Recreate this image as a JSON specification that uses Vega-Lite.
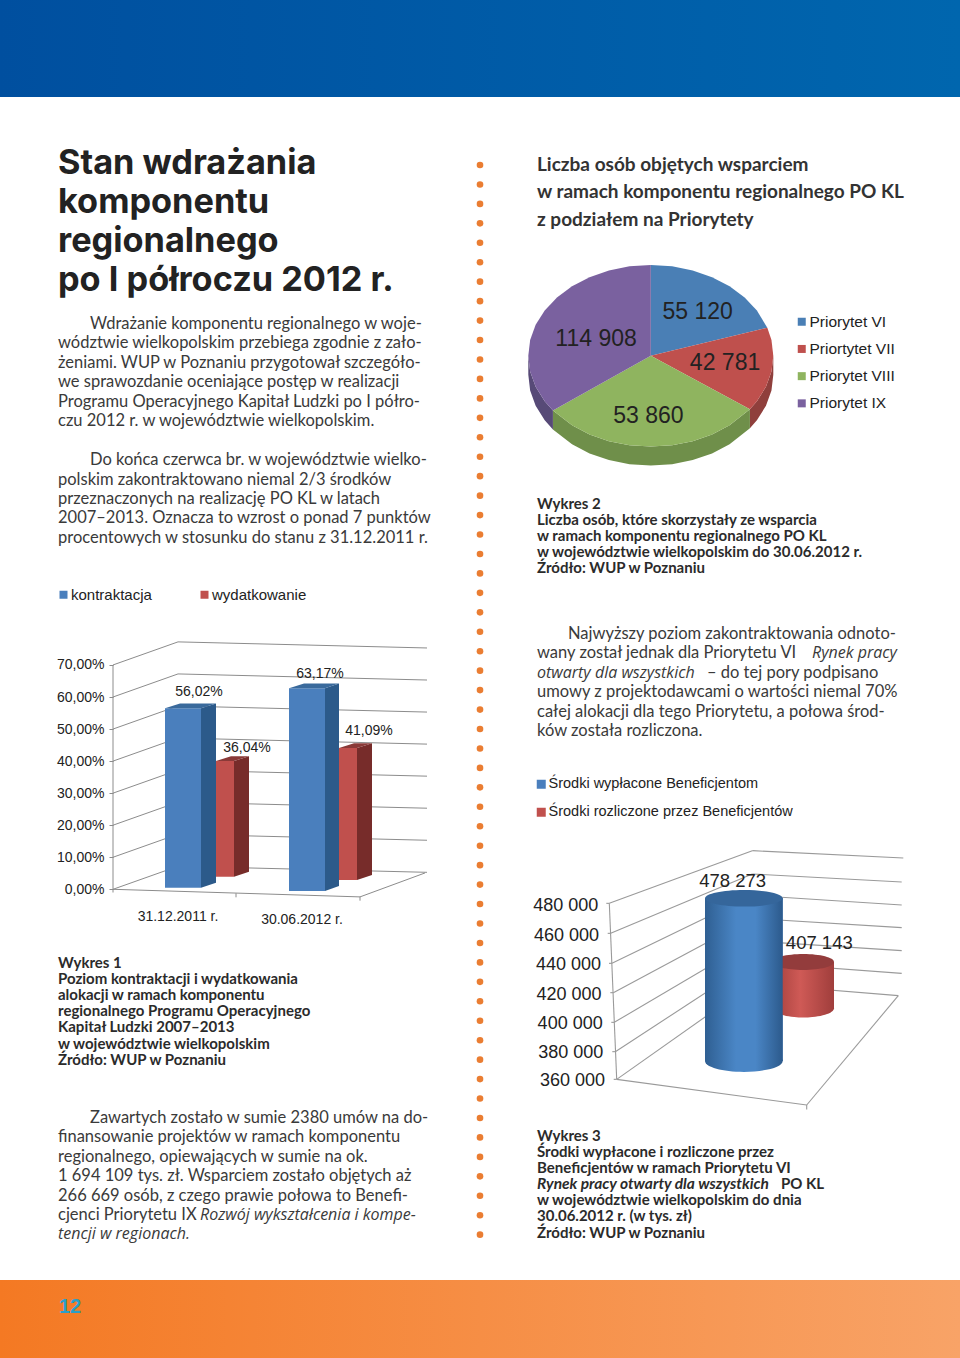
{"$schema":"https://vega.github.io/schema/vega-lite/v6.json","padding":0,"background":"#ffffff","config":{"view":{"stroke":null},"axis":{"labelFont":"Liberation Sans"},"legend":{"labelFont":"Liberation Sans"}},"spacing":0,"vconcat":[
{"width":960,"height":97,"data":{"values":[{"band":"top"}]},"mark":{"type":"rect","fill":{"x1":0,"y1":0,"x2":1,"y2":0,"gradient":"linear","stops":[{"offset":0,"color":"#004f9f"},{"offset":1,"color":"#0066ae"}]}},"encoding":{}},
{"spacing":0,"hconcat":[
{"spacing":0,"bounds":"flush","vconcat":[
{"width":470,"height":203,"data":{"values":[{"line":1,"indent":0,"text":"Stan wdrażania"},{"line":2,"indent":0,"text":"komponentu"},{"line":3,"indent":0,"text":"regionalnego"},{"line":4,"indent":0,"text":"po I półroczu 2012 r."}]},"mark":{"type":"text","align":"left","baseline":"middle","font":"Inter","fontWeight":"bold","fontSize":34.3,"color":"#222222"},"encoding":{"x":{"field":"indent","type":"quantitative","scale":{"domain":[-58,412]},"axis":null},"y":{"field":"line","type":"quantitative","scale":{"domain":[-0.718,4.487],"reverse":true},"axis":null},"text":{"field":"text"}}},
{"width":470,"height":260,"data":{"values":[{"line":1,"indent":32,"text":"Wdrażanie komponentu regionalnego w woje-"},{"line":2,"indent":0,"text":"wództwie wielkopolskim przebiega zgodnie z zało-"},{"line":3,"indent":0,"text":"żeniami. WUP w Poznaniu przygotował szczegóło-"},{"line":4,"indent":0,"text":"we sprawozdanie oceniające postęp w realizacji"},{"line":5,"indent":0,"text":"Programu Operacyjnego Kapitał Ludzki po I półro-"},{"line":6,"indent":0,"text":"czu 2012 r. w województwie wielkopolskim."},{"line":8,"indent":32,"text":"Do końca czerwca br. w województwie wielko-"},{"line":9,"indent":0,"text":"polskim zakontraktowano niemal 2/3 środków"},{"line":10,"indent":0,"text":"przeznaczonych na realizację PO KL w latach"},{"line":11,"indent":0,"text":"2007–2013. Oznacza to wzrost o ponad 7 punktów"},{"line":12,"indent":0,"text":"procentowych w stosunku do stanu z 31.12.2011 r."}]},"mark":{"type":"text","align":"left","baseline":"middle","font":"Lato","fontSize":16.5,"color":"#3a3a3a"},"encoding":{"x":{"field":"indent","type":"quantitative","scale":{"domain":[-58,412]},"axis":null},"y":{"field":"line","type":"quantitative","scale":{"domain":[-0.234,13.134],"reverse":true},"axis":null},"text":{"field":"text"}}},
{"width":470,"height":380,"encoding":{"x":{"field":"x0","type":"quantitative","scale":{"domain":[-113,357]},"axis":null},"y":{"field":"y0","type":"quantitative","scale":{"domain":[-15.82,102.75]},"axis":{"title":null,"values":[0,10,20,30,40,50,60,70],"domain":false,"grid":false,"tickSize":4,"tickColor":"#8c8c8c","labelFontSize":14,"labelColor":"#222222","offset":-113,"labelPadding":5,"labelExpr":"replace(format(datum.value,'.2f'),'.',',')+'%'"}}},"layer":[
{"data":{"values":[{"x0":0,"y0":0,"x1":65,"y1":7.2},{"x0":0,"y0":10,"x1":65,"y1":17.2},{"x0":0,"y0":20,"x1":65,"y1":27.2},{"x0":0,"y0":30,"x1":65,"y1":37.2},{"x0":0,"y0":40,"x1":65,"y1":47.2},{"x0":0,"y0":50,"x1":65,"y1":57.2},{"x0":0,"y0":60,"x1":65,"y1":67.2},{"x0":0,"y0":70,"x1":65,"y1":77.2},{"x0":65,"y0":7.2,"x1":314,"y1":5.3},{"x0":65,"y0":17.2,"x1":314,"y1":15.3},{"x0":65,"y0":27.2,"x1":314,"y1":25.3},{"x0":65,"y0":37.2,"x1":314,"y1":35.3},{"x0":65,"y0":47.2,"x1":314,"y1":45.3},{"x0":65,"y0":57.2,"x1":314,"y1":55.3},{"x0":65,"y0":67.2,"x1":314,"y1":65.3},{"x0":65,"y0":77.2,"x1":314,"y1":75.3},{"x0":0,"y0":0,"x1":0,"y1":70},{"x0":0,"y0":0,"x1":247,"y1":-2.37},{"x0":247,"y0":-2.37,"x1":312,"y1":5.1},{"x0":0,"y0":0,"x1":0,"y1":-1},{"x0":123,"y0":-1.25,"x1":123,"y1":-2.5},{"x0":247,"y0":-2.3,"x1":247,"y1":-3.55}]},"mark":{"type":"rule","color":"#8c8c8c","strokeWidth":1},"encoding":{"x2":{"field":"x1"},"y2":{"field":"y1"}}},
{"data":{"values":[{"series":"wydatkowanie","period":"31.12.2011 r.","value":36.04,"x0":103,"x1":121,"y0":3.93,"y1":40},{"series":"kontraktacja","period":"31.12.2011 r.","value":56.02,"x0":52,"x1":88,"y0":0.5,"y1":56.5},{"series":"wydatkowanie","period":"30.06.2012 r.","value":41.09,"x0":226,"x1":244,"y0":2.93,"y1":44.1},{"series":"kontraktacja","period":"30.06.2012 r.","value":63.17,"x0":176,"x1":212,"y0":-0.53,"y1":62.7}]},"mark":{"type":"rect"},"encoding":{"x2":{"field":"x1"},"y2":{"field":"y1"},"fill":{"field":"series","type":"nominal","scale":{"domain":["kontraktacja","wydatkowanie"],"range":["#4a7fbd","#c0504d"]},"legend":{"title":null,"orient":"none","legendX":56,"legendY":27,"direction":"horizontal","symbolType":"square","symbolSize":64,"symbolStrokeWidth":0,"labelFontSize":15,"labelColor":"#222222","columnPadding":45,"labelOffset":0}}}},
{"data":{"values":[{"face":"side blue","bar":"a","x0":88,"y0":0.5},{"face":"side blue","bar":"a","x0":103,"y0":2.06},{"face":"side blue","bar":"a","x0":103,"y0":58},{"face":"side blue","bar":"a","x0":88,"y0":56.5},{"face":"top blue","bar":"b","x0":52,"y0":56.5},{"face":"top blue","bar":"b","x0":67,"y0":58},{"face":"top blue","bar":"b","x0":103,"y0":58},{"face":"top blue","bar":"b","x0":88,"y0":56.5},{"face":"side red","bar":"c","x0":121,"y0":3.93},{"face":"side red","bar":"c","x0":136,"y0":5.5},{"face":"side red","bar":"c","x0":136,"y0":41.5},{"face":"side red","bar":"c","x0":121,"y0":40},{"face":"top red","bar":"d","x0":103,"y0":40},{"face":"top red","bar":"d","x0":118,"y0":41.5},{"face":"top red","bar":"d","x0":136,"y0":41.5},{"face":"top red","bar":"d","x0":121,"y0":40},{"face":"side blue","bar":"e","x0":212,"y0":-0.53},{"face":"side blue","bar":"e","x0":226,"y0":1},{"face":"side blue","bar":"e","x0":226,"y0":64.2},{"face":"side blue","bar":"e","x0":212,"y0":62.7},{"face":"top blue","bar":"f","x0":176,"y0":62.7},{"face":"top blue","bar":"f","x0":191,"y0":64.2},{"face":"top blue","bar":"f","x0":226,"y0":64.2},{"face":"top blue","bar":"f","x0":212,"y0":62.7},{"face":"side red","bar":"g","x0":244,"y0":2.93},{"face":"side red","bar":"g","x0":259,"y0":4.5},{"face":"side red","bar":"g","x0":259,"y0":45.6},{"face":"side red","bar":"g","x0":244,"y0":44.1},{"face":"top red","bar":"h","x0":226,"y0":44.1},{"face":"top red","bar":"h","x0":241,"y0":45.6},{"face":"top red","bar":"h","x0":259,"y0":45.6},{"face":"top red","bar":"h","x0":244,"y0":44.1}]},"mark":{"type":"line","strokeWidth":0},"encoding":{"order":{"value":null},"detail":{"field":"bar"},"fill":{"field":"face","type":"nominal","scale":{"domain":["side blue","top blue","side red","top red"],"range":["#2c5a8a","#3a6a9c","#772c2a","#8a3a38"]},"legend":null}}},
{"data":{"values":[{"x0":86,"y0":61.65,"label":"56,02%"},{"x0":134,"y0":44,"label":"36,04%"},{"x0":207,"y0":67.1,"label":"63,17%"},{"x0":256,"y0":49.5,"label":"41,09%"},{"x0":65,"y0":-8.6,"label":"31.12.2011 r."},{"x0":189,"y0":-9.55,"label":"30.06.2012 r."}]},"mark":{"type":"text","font":"Liberation Sans","fontSize":14,"color":"#222222"},"encoding":{"text":{"field":"label"}}}
],"resolve":{"scale":{"fill":"independent"}}},
{"width":470,"height":140,"data":{"values":[{"line":1,"indent":0,"text":"Wykres 1"},{"line":2,"indent":0,"text":"Poziom kontraktacji i wydatkowania"},{"line":3,"indent":0,"text":"alokacji w ramach komponentu"},{"line":4,"indent":0,"text":"regionalnego Programu Operacyjnego"},{"line":5,"indent":0,"text":"Kapitał Ludzki 2007–2013"},{"line":6,"indent":0,"text":"w województwie wielkopolskim"},{"line":7,"indent":0,"text":"Źródło: WUP w Poznaniu"}]},"mark":{"type":"text","align":"left","baseline":"middle","font":"Lato","fontWeight":"bold","fontSize":15,"color":"#2b2b2b"},"encoding":{"x":{"field":"indent","type":"quantitative","scale":{"domain":[-58,412]},"axis":null},"y":{"field":"line","type":"quantitative","scale":{"domain":[-0.4286,8.267],"reverse":true},"axis":null},"text":{"field":"text"}}},
{"width":470,"height":200,"encoding":{"x":{"field":"indent","type":"quantitative","scale":{"domain":[-58,412]},"axis":null},"y":{"field":"line","type":"quantitative","scale":{"domain":[-0.959,9.35],"reverse":true},"axis":null},"text":{"field":"text"}},"layer":[
{"data":{"values":[{"line":1,"indent":32,"text":"Zawartych zostało w sumie 2380 umów na do-"},{"line":2,"indent":0,"text":"finansowanie projektów w ramach komponentu"},{"line":3,"indent":0,"text":"regionalnego, opiewających w sumie na ok."},{"line":4,"indent":0,"text":"1 694 109 tys. zł. Wsparciem zostało objętych aż"},{"line":5,"indent":0,"text":"266 669 osób, z czego prawie połowa to Benefi-"},{"line":6,"indent":0,"text":"cjenci Priorytetu IX"}]},"mark":{"type":"text","align":"left","baseline":"middle","font":"Lato","fontSize":16.5,"color":"#3a3a3a"}},
{"data":{"values":[{"line":6,"indent":142,"text":"Rozwój wykształcenia i kompe-"},{"line":7,"indent":0,"text":"tencji w regionach."}]},"mark":{"type":"text","align":"left","baseline":"middle","font":"Open Sans","fontStyle":"italic","fontSize":16,"color":"#3a3a3a"}}
]}
]},
{"width":20,"height":1183,"data":{"values":[{"dot":1},{"dot":2},{"dot":3},{"dot":4},{"dot":5},{"dot":6},{"dot":7},{"dot":8},{"dot":9},{"dot":10},{"dot":11},{"dot":12},{"dot":13},{"dot":14},{"dot":15},{"dot":16},{"dot":17},{"dot":18},{"dot":19},{"dot":20},{"dot":21},{"dot":22},{"dot":23},{"dot":24},{"dot":25},{"dot":26},{"dot":27},{"dot":28},{"dot":29},{"dot":30},{"dot":31},{"dot":32},{"dot":33},{"dot":34},{"dot":35},{"dot":36},{"dot":37},{"dot":38},{"dot":39},{"dot":40},{"dot":41},{"dot":42},{"dot":43},{"dot":44},{"dot":45},{"dot":46},{"dot":47},{"dot":48},{"dot":49},{"dot":50},{"dot":51},{"dot":52},{"dot":53},{"dot":54},{"dot":55},{"dot":56}]},"mark":{"type":"point","filled":true,"opacity":1,"size":44,"color":"#ea7d32"},"encoding":{"y":{"field":"dot","type":"quantitative","scale":{"domain":[-2.496,58.33],"reverse":true},"axis":null}}},
{"spacing":0,"bounds":"flush","vconcat":[
{"width":470,"height":148,"data":{"values":[{"line":1,"indent":0,"text":"Liczba osób objętych wsparciem"},{"line":2,"indent":0,"text":"w ramach komponentu regionalnego PO KL"},{"line":3,"indent":0,"text":"z podziałem na Priorytety"}]},"mark":{"type":"text","align":"left","baseline":"middle","font":"Lato","fontWeight":"bold","fontSize":19,"color":"#333333"},"encoding":{"x":{"field":"indent","type":"quantitative","scale":{"domain":[-47,423]},"axis":null},"y":{"field":"line","type":"quantitative","scale":{"domain":[-1.472,3.909],"reverse":true},"axis":null},"text":{"field":"text"}}},
{"width":470,"height":235,"encoding":{"x":{"field":"ux","type":"quantitative","scale":{"domain":[-1.3127,2.524]},"axis":null},"y":{"field":"uy","type":"quantitative","scale":{"domain":[-1.368,1.22]},"axis":null}},"layer":[
{"data":{"values":[{"slice":"Priortytet VII","ux":1,"uy":0},{"slice":"Priortytet VII","ux":0.985,"uy":-0.174},{"slice":"Priortytet VII","ux":0.94,"uy":-0.342},{"slice":"Priortytet VII","ux":0.866,"uy":-0.5},{"slice":"Priortytet VII","ux":0.809,"uy":-0.588},{"slice":"Priortytet VII","ux":0.809,"uy":-0.797},{"slice":"Priortytet VII","ux":0.866,"uy":-0.709},{"slice":"Priortytet VII","ux":0.94,"uy":-0.551},{"slice":"Priortytet VII","ux":0.985,"uy":-0.383},{"slice":"Priortytet VII","ux":1,"uy":-0.209},{"slice":"Priorytet VIII","ux":0.809,"uy":-0.588},{"slice":"Priorytet VIII","ux":0.643,"uy":-0.766},{"slice":"Priorytet VIII","ux":0.5,"uy":-0.866},{"slice":"Priorytet VIII","ux":0.342,"uy":-0.94},{"slice":"Priorytet VIII","ux":0.174,"uy":-0.985},{"slice":"Priorytet VIII","ux":0,"uy":-1},{"slice":"Priorytet VIII","ux":-0.174,"uy":-0.985},{"slice":"Priorytet VIII","ux":-0.342,"uy":-0.94},{"slice":"Priorytet VIII","ux":-0.5,"uy":-0.866},{"slice":"Priorytet VIII","ux":-0.643,"uy":-0.766},{"slice":"Priorytet VIII","ux":-0.799,"uy":-0.602},{"slice":"Priorytet VIII","ux":-0.799,"uy":-0.811},{"slice":"Priorytet VIII","ux":-0.643,"uy":-0.975},{"slice":"Priorytet VIII","ux":-0.5,"uy":-1.075},{"slice":"Priorytet VIII","ux":-0.342,"uy":-1.149},{"slice":"Priorytet VIII","ux":-0.174,"uy":-1.194},{"slice":"Priorytet VIII","ux":0,"uy":-1.209},{"slice":"Priorytet VIII","ux":0.174,"uy":-1.194},{"slice":"Priorytet VIII","ux":0.342,"uy":-1.149},{"slice":"Priorytet VIII","ux":0.5,"uy":-1.075},{"slice":"Priorytet VIII","ux":0.643,"uy":-0.975},{"slice":"Priorytet VIII","ux":0.809,"uy":-0.797},{"slice":"Priorytet IX","ux":-0.799,"uy":-0.602},{"slice":"Priorytet IX","ux":-0.866,"uy":-0.5},{"slice":"Priorytet IX","ux":-0.94,"uy":-0.342},{"slice":"Priorytet IX","ux":-0.985,"uy":-0.174},{"slice":"Priorytet IX","ux":-1,"uy":0},{"slice":"Priorytet IX","ux":-1,"uy":-0.209},{"slice":"Priorytet IX","ux":-0.985,"uy":-0.383},{"slice":"Priorytet IX","ux":-0.94,"uy":-0.551},{"slice":"Priorytet IX","ux":-0.866,"uy":-0.709},{"slice":"Priorytet IX","ux":-0.799,"uy":-0.811}]},"mark":{"type":"line","strokeWidth":0},"encoding":{"order":{"value":null},"fill":{"field":"slice","type":"nominal","scale":{"domain":["Priortytet VII","Priorytet VIII","Priorytet IX"],"range":["#8f3f3c","#6f8f4a","#574a77"]},"legend":null}}},
{"data":{"values":[{"slice":"Priorytet VI","ux":0,"uy":0},{"slice":"Priorytet VI","ux":0,"uy":1},{"slice":"Priorytet VI","ux":0.174,"uy":0.985},{"slice":"Priorytet VI","ux":0.342,"uy":0.94},{"slice":"Priorytet VI","ux":0.5,"uy":0.866},{"slice":"Priorytet VI","ux":0.643,"uy":0.766},{"slice":"Priorytet VI","ux":0.766,"uy":0.643},{"slice":"Priorytet VI","ux":0.866,"uy":0.5},{"slice":"Priorytet VI","ux":0.951,"uy":0.309},{"slice":"Priortytet VII","ux":0,"uy":0},{"slice":"Priortytet VII","ux":0.951,"uy":0.309},{"slice":"Priortytet VII","ux":0.985,"uy":0.174},{"slice":"Priortytet VII","ux":1,"uy":0},{"slice":"Priortytet VII","ux":0.985,"uy":-0.174},{"slice":"Priortytet VII","ux":0.94,"uy":-0.342},{"slice":"Priortytet VII","ux":0.866,"uy":-0.5},{"slice":"Priortytet VII","ux":0.809,"uy":-0.588},{"slice":"Priorytet VIII","ux":0,"uy":0},{"slice":"Priorytet VIII","ux":0.809,"uy":-0.588},{"slice":"Priorytet VIII","ux":0.643,"uy":-0.766},{"slice":"Priorytet VIII","ux":0.5,"uy":-0.866},{"slice":"Priorytet VIII","ux":0.342,"uy":-0.94},{"slice":"Priorytet VIII","ux":0.174,"uy":-0.985},{"slice":"Priorytet VIII","ux":0,"uy":-1},{"slice":"Priorytet VIII","ux":-0.174,"uy":-0.985},{"slice":"Priorytet VIII","ux":-0.342,"uy":-0.94},{"slice":"Priorytet VIII","ux":-0.5,"uy":-0.866},{"slice":"Priorytet VIII","ux":-0.643,"uy":-0.766},{"slice":"Priorytet VIII","ux":-0.799,"uy":-0.602},{"slice":"Priorytet IX","ux":0,"uy":0},{"slice":"Priorytet IX","ux":-0.799,"uy":-0.602},{"slice":"Priorytet IX","ux":-0.866,"uy":-0.5},{"slice":"Priorytet IX","ux":-0.94,"uy":-0.342},{"slice":"Priorytet IX","ux":-0.985,"uy":-0.174},{"slice":"Priorytet IX","ux":-1,"uy":0},{"slice":"Priorytet IX","ux":-0.985,"uy":0.174},{"slice":"Priorytet IX","ux":-0.94,"uy":0.342},{"slice":"Priorytet IX","ux":-0.866,"uy":0.5},{"slice":"Priorytet IX","ux":-0.766,"uy":0.643},{"slice":"Priorytet IX","ux":-0.643,"uy":0.766},{"slice":"Priorytet IX","ux":-0.5,"uy":0.866},{"slice":"Priorytet IX","ux":-0.342,"uy":0.94},{"slice":"Priorytet IX","ux":-0.174,"uy":0.985},{"slice":"Priorytet IX","ux":0,"uy":1}]},"mark":{"type":"line","strokeWidth":0},"encoding":{"order":{"value":null},"fill":{"field":"slice","type":"nominal","scale":{"domain":["Priorytet VI","Priortytet VII","Priorytet VIII","Priorytet IX"],"range":["#4a7fb5","#bf504d","#8fb45f","#7a619f"]},"legend":{"title":null,"orient":"none","legendX":304,"legendY":69,"symbolType":"square","symbolSize":64,"symbolStrokeWidth":0,"labelFontSize":15.5,"labelColor":"#222222","rowPadding":10.2,"labelOffset":0}}}},
{"data":{"values":[{"ux":0.383,"uy":0.483,"label":"55 120"},{"ux":0.606,"uy":-0.075,"label":"42 781"},{"ux":-0.02,"uy":-0.662,"label":"53 860"},{"ux":-0.447,"uy":0.19,"label":"114 908"}]},"mark":{"type":"text","font":"Liberation Sans","fontSize":23,"color":"#222222"},"encoding":{"text":{"field":"label"}}}
],"resolve":{"scale":{"fill":"independent"}}},
{"width":470,"height":140,"data":{"values":[{"line":1,"indent":0,"text":"Wykres 2"},{"line":2,"indent":0,"text":"Liczba osób, które skorzystały ze wsparcia"},{"line":3,"indent":0,"text":"w ramach komponentu regionalnego PO KL"},{"line":4,"indent":0,"text":"w województwie wielkopolskim do 30.06.2012 r."},{"line":5,"indent":0,"text":"Źródło: WUP w Poznaniu"}]},"mark":{"type":"text","align":"left","baseline":"middle","font":"Lato","fontWeight":"bold","fontSize":15,"color":"#2b2b2b"},"encoding":{"x":{"field":"indent","type":"quantitative","scale":{"domain":[-47,423]},"axis":null},"y":{"field":"line","type":"quantitative","scale":{"domain":[-0.491,8.205],"reverse":true},"axis":null},"text":{"field":"text"}}},
{"width":470,"height":140,"encoding":{"x":{"field":"indent","type":"quantitative","scale":{"domain":[-47,423]},"axis":null},"y":{"field":"line","type":"quantitative","scale":{"domain":[0.279,7.495],"reverse":true},"axis":null},"text":{"field":"text"}},"layer":[
{"data":{"values":[{"line":1,"indent":31,"text":"Najwyższy poziom zakontraktowania odnoto-"},{"line":2,"indent":0,"text":"wany został jednak dla Priorytetu VI"},{"line":3,"indent":170,"text":"– do tej pory podpisano"},{"line":4,"indent":0,"text":"umowy z projektodawcami o wartości niemal 70%"},{"line":5,"indent":0,"text":"całej alokacji dla tego Priorytetu, a połowa środ-"},{"line":6,"indent":0,"text":"ków została rozliczona."}]},"mark":{"type":"text","align":"left","baseline":"middle","font":"Lato","fontSize":16.5,"color":"#3a3a3a"}},
{"data":{"values":[{"line":2,"indent":275,"text":"Rynek pracy"},{"line":3,"indent":0,"text":"otwarty dla wszystkich"}]},"mark":{"type":"text","align":"left","baseline":"middle","font":"Open Sans","fontStyle":"italic","fontSize":16,"color":"#3a3a3a"}}
]},
{"width":470,"height":355,"encoding":{"x":{"field":"x0","type":"quantitative","scale":{"domain":[-47,423]},"axis":null},"y":{"field":"y0","type":"quantitative","scale":{"domain":[336042,579040]},"axis":null}},"layer":[
{"data":{"values":[{"x0":72.3,"y0":480927,"x1":215.3,"y1":516978},{"x0":73.7,"y0":460392,"x1":215.3,"y1":501006},{"x0":75,"y0":439856,"x1":215.3,"y1":486403},{"x0":76.3,"y0":419777,"x1":215.3,"y1":470659},{"x0":77.3,"y0":399470,"x1":215.3,"y1":455144},{"x0":78.3,"y0":379391,"x1":215.3,"y1":440541},{"x0":79.7,"y0":360453,"x1":215.3,"y1":425940},{"x0":215.3,"y0":516978,"x1":366.3,"y1":511958},{"x0":215.3,"y0":501006,"x1":364.7,"y1":495530},{"x0":215.3,"y0":486403,"x1":364.7,"y1":479786},{"x0":215.3,"y0":470659,"x1":364.7,"y1":464270},{"x0":215.3,"y0":455144,"x1":364.7,"y1":448527},{"x0":215.3,"y0":440541,"x1":364.7,"y1":433011},{"x0":215.3,"y0":425940,"x1":361.3,"y1":417726},{"x0":72.3,"y0":480927,"x1":79.7,"y1":360453},{"x0":79.7,"y0":360453,"x1":269.7,"y1":342888},{"x0":269.7,"y0":342888,"x1":361.3,"y1":417726},{"x0":269.7,"y0":342888,"x1":269.7,"y1":339800},{"x0":69.3,"y0":480927,"x1":72.3,"y1":480927},{"x0":70.7,"y0":460392,"x1":73.7,"y1":460392},{"x0":72,"y0":439856,"x1":75,"y1":439856},{"x0":73.3,"y0":419777,"x1":76.3,"y1":419777},{"x0":74.3,"y0":399470,"x1":77.3,"y1":399470},{"x0":75.3,"y0":379391,"x1":78.3,"y1":379391},{"x0":76.7,"y0":360453,"x1":79.7,"y1":360453}]},"mark":{"type":"rule","color":"#9a9a9a","strokeWidth":1.1},"encoding":{"x2":{"field":"x1"},"y2":{"field":"y1"}}},
{"data":{"values":[{"series":"Środki rozliczone przez Beneficjentów","value":407143,"x0":235.6,"x1":297,"y0":409079,"y1":440771},{"series":"Środki wypłacone Beneficjentom","value":478273,"x0":168,"x1":245.7,"y0":373006,"y1":484374}]},"mark":{"type":"rect"},"encoding":{"x2":{"field":"x1"},"y2":{"field":"y1"},"fill":{"field":"series","type":"nominal","scale":{"domain":["Środki wypłacone Beneficjentom","Środki rozliczone przez Beneficjentów"],"range":["#4a7fbd","#c0504d"]},"legend":{"title":null,"orient":"none","legendX":44,"legendY":17,"symbolType":"square","symbolSize":81,"symbolStrokeWidth":0,"labelFontSize":14.5,"labelColor":"#222222","rowPadding":13,"labelOffset":0,"labelLimit":400}}}},
{"data":{"values":[{"x0":266.3,"y0":409079}]},"mark":{"type":"point","filled":true,"opacity":1,"strokeWidth":0,"size":3770,"shape":"M-1,0A1,0.3,0,1,0,1,0A1,0.3,0,1,0,-1,0Z","fill":{"x1":0,"y1":0,"x2":1,"y2":0,"gradient":"linear","stops":[{"offset":0,"color":"#a33f3c"},{"offset":0.45,"color":"#cf5a56"},{"offset":1,"color":"#a03e3c"}]}}},
{"data":{"values":[{"x0":235.6,"x1":297,"y0":409079,"y1":440771}]},"mark":{"type":"rect","fill":{"x1":0,"y1":0,"x2":1,"y2":0,"gradient":"linear","stops":[{"offset":0,"color":"#a33f3c"},{"offset":0.45,"color":"#cf5a56"},{"offset":1,"color":"#a03e3c"}]}},"encoding":{"x2":{"field":"x1"},"y2":{"field":"y1"}}},
{"data":{"values":[{"x0":266.3,"y0":440771}]},"mark":{"type":"point","filled":true,"opacity":1,"strokeWidth":0,"size":3770,"shape":"M-1,0A1,0.26,0,1,0,1,0A1,0.26,0,1,0,-1,0Z","fill":"#933c3c"}},
{"data":{"values":[{"x0":206.85,"y0":373006}]},"mark":{"type":"point","filled":true,"opacity":1,"strokeWidth":0,"size":6037,"shape":"M-1,0A1,0.28,0,1,0,1,0A1,0.28,0,1,0,-1,0Z","fill":{"x1":0,"y1":0,"x2":1,"y2":0,"gradient":"linear","stops":[{"offset":0,"color":"#2f5f92"},{"offset":0.4,"color":"#4a86c6"},{"offset":0.65,"color":"#4a86c6"},{"offset":1,"color":"#2c5a8c"}]}}},
{"data":{"values":[{"x0":168,"x1":245.7,"y0":373006,"y1":484374}]},"mark":{"type":"rect","fill":{"x1":0,"y1":0,"x2":1,"y2":0,"gradient":"linear","stops":[{"offset":0,"color":"#2f5f92"},{"offset":0.4,"color":"#4a86c6"},{"offset":0.65,"color":"#4a86c6"},{"offset":1,"color":"#2c5a8c"}]}},"encoding":{"x2":{"field":"x1"},"y2":{"field":"y1"}}},
{"data":{"values":[{"x0":206.85,"y0":484374}]},"mark":{"type":"point","filled":true,"opacity":1,"strokeWidth":0,"size":6037,"shape":"M-1,0A1,0.214,0,1,0,1,0A1,0.214,0,1,0,-1,0Z","fill":"#35669b"}},
{"data":{"values":[{"x0":61.3,"y0":479300,"label":"480 000"},{"x0":62,"y0":458800,"label":"460 000"},{"x0":64,"y0":438500,"label":"440 000"},{"x0":64.5,"y0":418400,"label":"420 000"},{"x0":65.7,"y0":398100,"label":"400 000"},{"x0":66.3,"y0":378200,"label":"380 000"},{"x0":68,"y0":359300,"label":"360 000"}]},"mark":{"type":"text","align":"right","font":"Liberation Sans","fontSize":18,"color":"#222222"},"encoding":{"text":{"field":"label"}}},
{"data":{"values":[{"x0":195.7,"y0":496200,"label":"478 273"},{"x0":282.3,"y0":453500,"label":"407 143"}]},"mark":{"type":"text","font":"Liberation Sans","fontSize":18.5,"color":"#222222"},"encoding":{"text":{"field":"label"}}}
],"resolve":{"scale":{"fill":"independent"}}},
{"width":470,"height":165,"encoding":{"x":{"field":"indent","type":"quantitative","scale":{"domain":[-47,423]},"axis":null},"y":{"field":"line","type":"quantitative","scale":{"domain":[-0.304,9.944],"reverse":true},"axis":null},"text":{"field":"text"}},"layer":[
{"data":{"values":[{"line":1,"indent":0,"text":"Wykres 3"},{"line":2,"indent":0,"text":"Środki wypłacone i rozliczone przez"},{"line":3,"indent":0,"text":"Beneficjentów w ramach Priorytetu VI"},{"line":4,"indent":244,"text":"PO KL"},{"line":5,"indent":0,"text":"w województwie wielkopolskim do dnia"},{"line":6,"indent":0,"text":"30.06.2012 r. (w tys. zł)"},{"line":7,"indent":0,"text":"Źródło: WUP w Poznaniu"}]},"mark":{"type":"text","align":"left","baseline":"middle","font":"Lato","fontWeight":"bold","fontSize":15,"color":"#2b2b2b"}},
{"data":{"values":[{"line":4,"indent":0,"text":"Rynek pracy otwarty dla wszystkich"}]},"mark":{"type":"text","align":"left","baseline":"middle","font":"Lato","fontWeight":"bold","fontStyle":"italic","fontSize":15.5,"color":"#2b2b2b"}}
]}
]}
]},
{"width":960,"height":78,"encoding":{},"layer":[
{"data":{"values":[{"band":"bottom"}]},"mark":{"type":"rect","fill":{"x1":0,"y1":0,"x2":1,"y2":0,"gradient":"linear","stops":[{"offset":0,"color":"#f47923"},{"offset":1,"color":"#f8a367"}]}},"encoding":{}},
{"data":{"values":[{"line":1,"indent":70,"text":"12"}]},"mark":{"type":"text","font":"Liberation Sans","fontWeight":"bold","fontSize":20,"color":"#2a9fc9"},"encoding":{"x":{"field":"indent","type":"quantitative","scale":{"domain":[0,960]},"axis":null},"y":{"field":"line","type":"quantitative","scale":{"domain":[0,2.889],"reverse":true},"axis":null},"text":{"field":"text"}}}
]}
]}
